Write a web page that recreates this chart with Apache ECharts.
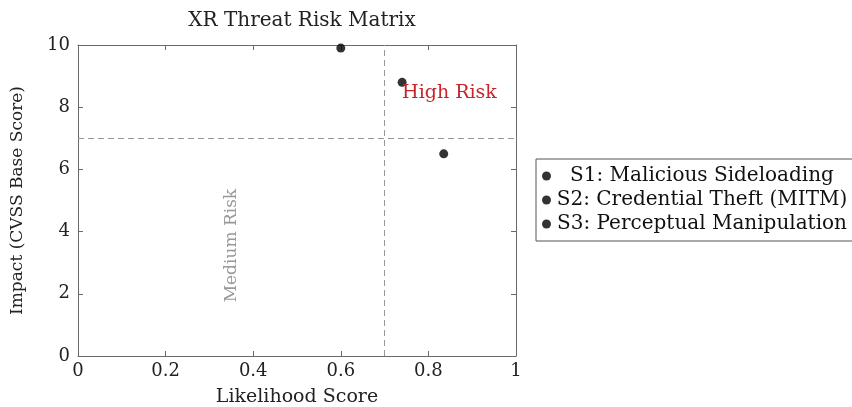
<!DOCTYPE html>
<html><head><meta charset="utf-8">
<script src="https://cdn.jsdelivr.net/npm/echarts@6/dist/echarts.min.js"></script>
<style>html,body{margin:0;padding:0;background:#fff}#c{width:852px;height:407px}</style>
</head><body><div id="c"></div>
<script>
const seriesNames = ['S1: Malicious Sideloading', 'S2: Credential Theft (MITM)', 'S3: Perceptual Manipulation'];
const likelihood = [0.60, 0.74, 0.835];
const impact = [9.9, 8.8, 6.5];
const thresholdX = 0.7;
const thresholdY = 7;
const annotations = [
  {text: 'High Risk', x: 0.74, y: 8.45, color: '#c8242b', rotate: 0, align: 'left', size: 19},
  {text: 'Medium Risk', x: 0.35, y: 3.55, color: '#999999', rotate: 90, align: 'center', size: 17}
];

const FONT = 'DejaVu Serif';
const chart = echarts.init(document.getElementById('c'));
const axisCol = '#6a6a6a';

const series = seriesNames.map((n, i) => ({
  name: n, type: 'scatter', symbol: 'circle', symbolSize: 9,
  itemStyle: {color: '#000'},
  data: [[likelihood[i], impact[i]]]
}));
series.push({
  type: 'scatter', data: [], silent: true,
  markLine: {
    symbol: 'none', silent: true,
    lineStyle: {color: '#999', type: [6, 4], width: 1},
    label: {show: false},
    data: [{xAxis: thresholdX}, {yAxis: thresholdY}]
  },
  markPoint: {
    symbol: 'circle', symbolSize: 0,
    data: annotations.map(a => ({
      coord: [a.x, a.y],
      label: {show: true, formatter: a.text, color: a.color, fontFamily: FONT, fontSize: a.size,
        rotate: a.rotate, align: a.align, verticalAlign: 'middle', position: 'inside', offset: [0, 0]}
    }))
  }
});

const mirror = {
  axisLine: {show: true, onZero: false, lineStyle: {color: axisCol}},
  axisTick: {show: true, inside: true, length: 5, lineStyle: {color: axisCol}},
  axisLabel: {show: false}, splitLine: {show: false}
};

chart.setOption({
  animation: false,
  title: {text: 'XR Threat Risk Matrix', left: 297, top: 6, textAlign: 'center',
    textStyle: {fontFamily: FONT, fontWeight: 'normal', fontSize: 20, color: '#222'}},
  grid: {left: 78, right: 336, top: 45, bottom: 51, containLabel: false, outerBoundsMode: 'none'},
  legend: {
    orient: 'vertical', left: 536, top: 159, data: seriesNames,
    icon: 'circle', itemWidth: 9, itemHeight: 9, itemGap: 4,
    padding: [7, 40, 7, 6], borderColor: '#555', borderWidth: 1,
    formatter: n => '{a|' + n + '}',
    textStyle: {fontFamily: FONT, fontSize: 20, color: '#111',
      rich: {a: {fontFamily: FONT, fontSize: 20, lineHeight: 20, color: '#111', width: 292, align: 'center'}}}
  },
  xAxis: [{
    type: 'value', min: 0, max: 1, interval: 0.2,
    name: 'Likelihood Score', nameLocation: 'middle', nameGap: 32,
    nameTextStyle: {fontFamily: FONT, fontSize: 19, color: '#222'},
    axisLine: {show: true, onZero: false, lineStyle: {color: axisCol}},
    axisTick: {show: true, inside: true, length: 5, lineStyle: {color: axisCol}},
    axisLabel: {fontFamily: FONT, fontSize: 18, color: '#222', margin: 6},
    splitLine: {show: false}
  }, Object.assign({type: 'value', min: 0, max: 1, interval: 0.2, position: 'top'}, mirror)],
  yAxis: [{
    type: 'value', min: 0, max: 10, interval: 2,
    name: 'Impact (CVSS Base Score)', nameLocation: 'middle', nameGap: 52,
    nameTextStyle: {fontFamily: FONT, fontSize: 17, color: '#222'},
    axisLine: {show: true, onZero: false, lineStyle: {color: axisCol}},
    axisTick: {show: true, inside: true, length: 5, lineStyle: {color: axisCol}},
    axisLabel: {fontFamily: FONT, fontSize: 18, color: '#222', margin: 8},
    splitLine: {show: false}
  }, Object.assign({type: 'value', min: 0, max: 10, interval: 2, position: 'right'}, mirror)],
  series: series
});
</script></body></html>
